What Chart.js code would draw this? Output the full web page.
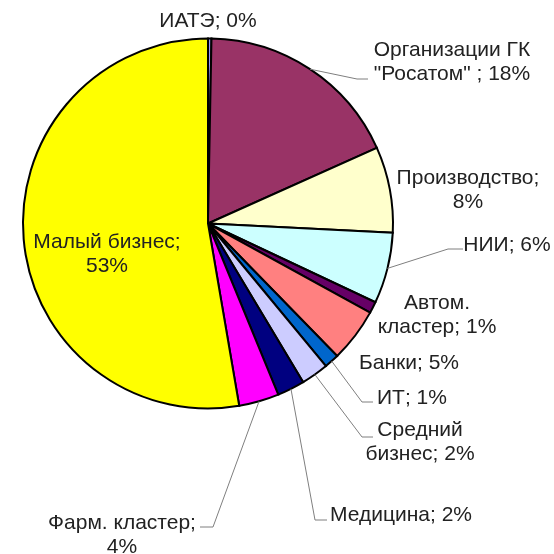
<!DOCTYPE html>
<html>
<head>
<meta charset="utf-8">
<script src="https://cdn.jsdelivr.net/npm/chart.js@4/dist/chart.umd.min.js"></script>
<style>
html,body{margin:0;padding:0;background:#fff;}
canvas{display:block;}
</style>
</head>
<body>
<canvas id="c" width="554" height="554"></canvas>
<script>
// ---- data ----
const categories = ['ИАТЭ', 'Организации ГК "Росатом" ', 'Производство', 'НИИ', 'Автом. кластер', 'Банки', 'ИТ', 'Средний бизнес', 'Медицина', 'Фарм. кластер', 'Малый бизнес'];
const shares = [0.3, 18, 7.5, 6.2, 1, 4.7, 1.3, 2.4, 2.4, 3.5, 52.7];
const colors = ['#9999FF', '#993366', '#FFFFCC', '#CCFFFF', '#660066', '#FF8080', '#0066CC', '#CCCCFF', '#000080', '#FF00FF', '#FFFF00'];

// ---- label layout (positions / wrapping only) ----
// wrap: 'one' = single line, 'name' = "name;" / "p%", number = words on first line
const labelLayout = [
  {x: 208, y: 21,  wrap: 'one'},
  {x: 452, y: 50,  wrap: 2, elbow: [[357, 79], [368, 79]]},
  {x: 468, y: 178, wrap: 'name'},
  {x: 507, y: 245, wrap: 'one', elbow: [[448, 249], [463, 249]]},
  {x: 437, y: 303, wrap: 1},
  {x: 409, y: 363, wrap: 'one'},
  {x: 412, y: 398, wrap: 'one', elbow: [[362, 402], [373, 402]]},
  {x: 420, y: 430, wrap: 1, elbow: [[362, 437], [373, 437]]},
  {x: 401, y: 515, wrap: 'one', elbow: [[315, 520], [327, 520]]},
  {x: 122, y: 523, wrap: 'name', elbow: [[213, 527], [200, 527]]},
  {x: 107, y: 242, wrap: 'name'}
];

const total = shares.reduce((a, b) => a + b, 0);

function labelLines(i) {
  const name = categories[i];
  const pct = Math.round(shares[i] / total * 100) + '%';
  const w = labelLayout[i].wrap;
  if (w === 'one') return [name + '; ' + pct];
  if (w === 'name') return [name + ';', pct];
  const words = name.split(' ');
  const first = words.slice(0, w).join(' ');
  const rest = words.slice(w).join(' ');
  return [first, rest + '; ' + pct];
}

const labelPlugin = {
  id: 'pieLabels',
  afterDraw(chart) {
    const ctx = chart.ctx;
    const arcs = chart.getDatasetMeta(0).data;
    ctx.save();
    // leader lines
    ctx.strokeStyle = '#7f7f7f';
    ctx.lineWidth = 1;
    arcs.forEach((arc, i) => {
      const L = labelLayout[i];
      if (!L.elbow) return;
      const a = (arc.startAngle + arc.endAngle) / 2;
      const r = arc.outerRadius;
      ctx.beginPath();
      ctx.moveTo(arc.x + r * Math.cos(a), arc.y + r * Math.sin(a));
      L.elbow.forEach(p => ctx.lineTo(p[0], p[1]));
      ctx.stroke();
    });
    // text
    ctx.fillStyle = '#222';
    ctx.font = '21px "Liberation Sans", Arial, sans-serif';
    ctx.textAlign = 'center';
    ctx.textBaseline = 'middle';
    arcs.forEach((arc, i) => {
      const L = labelLayout[i];
      labelLines(i).forEach((t, k) => ctx.fillText(t, L.x, L.y + k * 24));
    });
    ctx.restore();
  }
};

new Chart(document.getElementById('c'), {
  type: 'pie',
  data: {
    labels: categories,
    datasets: [{
      data: shares,
      backgroundColor: colors,
      borderColor: '#000',
      borderWidth: 2,
      borderJoinStyle: 'miter'
    }]
  },
  options: {
    responsive: false,
    animation: false,
    layout: {padding: {left: 22, top: 37, right: 160, bottom: 144}},
    plugins: {legend: {display: false}, tooltip: {enabled: false}}
  },
  plugins: [labelPlugin]
});
</script>
</body>
</html>
